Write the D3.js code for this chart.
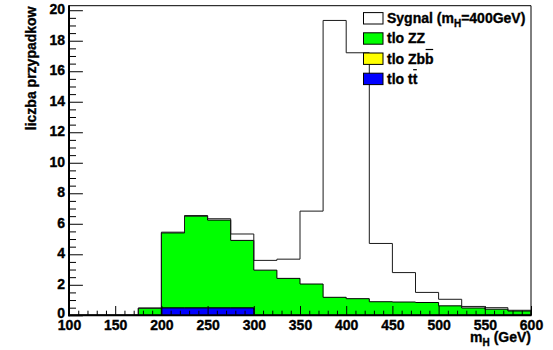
<!DOCTYPE html>
<html>
<head>
<meta charset="utf-8">
<script src="https://cdn.jsdelivr.net/npm/d3@7/dist/d3.min.js"></script>
<style>
  body { margin: 0; background: #fff; }
  svg { display: block; }
</style>
</head>
<body>
<svg id="chart" width="553" height="350"></svg>
<script>
// Histogram bins: lower edges (GeV), 25 GeV wide
const binLow = [100, 125, 150, 175, 200, 225, 250, 275, 300, 325,
                350, 375, 400, 425, 450, 475, 500, 525, 550, 575];
const binWidth = 25;

// Signal (m_H = 400 GeV) outline heights
const sygnal = [0, 0, 0, 0.47, 5.45, 6.54, 6.33, 5.33, 3.60, 3.68,
                6.83, 19.33, 17.21, 4.71, 2.80, 1.50, 1.05, 0.58, 0.50, 0.33];

// Background components (stacked: tt at the bottom, then Zbb, then ZZ)
const tloTT  = [0, 0, 0, 0, 0.48, 0.48, 0.48, 0.48, 0, 0,
                0, 0, 0, 0, 0, 0, 0, 0, 0, 0];
const tloZbb = [0, 0, 0, 0, 0, 0, 0, 0, 0, 0,
                0, 0, 0, 0, 0, 0, 0, 0, 0, 0];
const tloZZ  = [0, 0, 0, 0.47, 4.92, 6.02, 5.76, 4.43, 2.96, 2.42,
                2.05, 1.18, 1.09, 0.89, 0.87, 0.84, 0.62, 0.48, 0.40, 0.28];

// Axis ticks
const xMajor = [100, 150, 200, 250, 300, 350, 400, 450, 500, 550, 600];
const yMajor = [0, 2, 4, 6, 8, 10, 12, 14, 16, 18, 20];

(function draw() {
  const FONT = "Arial, 'Liberation Sans', sans-serif";
  const svg = d3.select("#chart");
  const fLeft = 69, fRight = 531, fTop = 5.7, fBottom = 315.3;

  const yTop = d3.max(sygnal) * 1.05;
  const x = d3.scaleLinear().domain([100, 600]).range([fLeft, fRight]);
  const y = d3.scaleLinear().domain([0, yTop]).range([fBottom, fTop]);

  // Rows for stacking
  const rows = binLow.map((lo, i) => ({ lo, tt: tloTT[i], zbb: tloZbb[i], zz: tloZZ[i] }));
  const layers = d3.stack().keys(["tt", "zbb", "zz"])(rows);
  const colors = { tt: "#0000ff", zbb: "#ffff00", zz: "#00ff00" };

  // Step outline from 0, across bins, back to 0
  function stepPoints(vals) {
    const pts = [[binLow[0], 0]];
    vals.forEach((v, i) => {
      pts.push([binLow[i], v]);
      pts.push([binLow[i] + binWidth, v]);
    });
    pts.push([binLow[binLow.length - 1] + binWidth, 0]);
    return pts;
  }
  const stepLine = d3.line().x(d => x(d[0])).y(d => y(d[1]));
  const stepArea = d3.area().x(d => x(d[0])).y0(y(0)).y1(d => y(d[1]));

  // Cumulative layers drawn from the top of the stack down, each filled from zero
  const plot = svg.append("g");
  layers.slice().reverse().forEach(layer => {
    const tops = layer.map(d => d[1]);
    if (d3.max(tops) <= 0) return;
    const pts = stepPoints(tops);
    plot.append("path").attr("d", stepArea(pts))
      .attr("fill", colors[layer.key]).attr("stroke", "none");
    plot.append("path").attr("d", stepLine(pts))
      .attr("fill", "none").attr("stroke", "#000").attr("stroke-width", 1);
  });

  // Signal outline
  plot.append("path").attr("d", stepLine(stepPoints(sygnal)))
    .attr("fill", "none").attr("stroke", "#1a1a1a").attr("stroke-width", 1);

  // Frame: thin top/right
  svg.append("line").attr("x1", fLeft).attr("x2", fRight).attr("y1", fTop).attr("y2", fTop)
    .attr("stroke", "#000").attr("stroke-width", 1);
  svg.append("line").attr("x1", fRight).attr("x2", fRight).attr("y1", fTop).attr("y2", fBottom)
    .attr("stroke", "#000").attr("stroke-width", 1);

  // X axis: major ticks every 50, minor every 10, pointing inwards
  const xMinor = d3.range(100, 601, 10).filter(v => v % 50 !== 0);
  const gxMinor = svg.append("g").attr("transform", `translate(0,${fBottom})`)
    .call(d3.axisBottom(x).tickValues(xMinor).tickSize(-4.6).tickFormat(""));
  const gx = svg.append("g").attr("transform", `translate(0,${fBottom})`)
    .call(d3.axisBottom(x).tickValues(xMajor).tickSize(-9.3).tickPadding(4.8).tickFormat(d3.format("d")));

  // Y axis: major ticks every 2, minor every 0.5
  const yMinor = d3.range(0, yTop, 0.5).filter(v => v % 2 !== 0);
  const gyMinor = svg.append("g").attr("transform", `translate(${fLeft},0)`)
    .call(d3.axisLeft(y).tickValues(yMinor).tickSize(-7).tickFormat(""));
  const gy = svg.append("g").attr("transform", `translate(${fLeft},0)`)
    .call(d3.axisLeft(y).tickValues(yMajor).tickSize(-13.9).tickPadding(4).tickFormat(d3.format("d")));

  [gxMinor, gx, gyMinor, gy].forEach(g => {
    g.select(".domain").remove();
    g.selectAll(".tick line").attr("stroke", "#000");
  });
  gy.selectAll(".tick text").attr("dy", "0.26em");
  gy.selectAll(".tick text").filter(d => d === 0).attr("dy", "0.14em");

  // Thick left and bottom axis lines
  svg.append("line").attr("x1", fLeft).attr("x2", fLeft).attr("y1", fTop - 0.5).attr("y2", fBottom + 1)
    .attr("stroke", "#000").attr("stroke-width", 2);
  svg.append("line").attr("x1", fLeft - 1).attr("x2", fRight + 0.5).attr("y1", fBottom).attr("y2", fBottom)
    .attr("stroke", "#000").attr("stroke-width", 2);

  // Axis titles
  const xt = svg.append("text").attr("x", fRight).attr("y", 342).attr("text-anchor", "end");
  xt.append("tspan").text("m");
  xt.append("tspan").attr("font-size", 10).attr("dy", 4).text("H");
  xt.append("tspan").attr("dy", -4).text(" (GeV)");

  svg.append("text")
    .attr("transform", "translate(36,6.5) rotate(-90)")
    .attr("text-anchor", "end")
    .text("liczba przypadkow");

  // Legend
  const legend = [
    { fill: "#ffffff", parts: [["Sygnal (m"], ["H", "sub"], ["=400GeV)"]] },
    { fill: colors.zz, parts: [["tlo ZZ"]] },
    { fill: colors.zbb, parts: [["tlo Zb"], ["b", "bar"]] },
    { fill: colors.tt, parts: [["tlo t"], ["t", "bar"]] }
  ];
  const lg = svg.append("g");
  const barQueue = [];
  legend.forEach((e, i) => {
    const cy = 18.3 + i * 20.2;
    lg.append("rect").attr("x", 363.5).attr("y", cy - 5.7).attr("width", 19.5).attr("height", 11.4)
      .attr("fill", e.fill).attr("stroke", "#000").attr("stroke-width", 1);
    const base = cy + 4.8;
    const t = lg.append("text").attr("x", 387).attr("y", base);
    let shifted = false;
    let charCount = 0;
    e.parts.forEach(([s, kind]) => {
      const ts = t.append("tspan").text(s);
      if (kind === "sub") { ts.attr("font-size", 10).attr("dy", 4); shifted = true; }
      else if (shifted) { ts.attr("dy", -4); shifted = false; }
      if (kind === "bar") barQueue.push({ node: t.node(), ci: charCount, base });
      charCount += s.length;
    });
  });

  // Heavy bold 14px text throughout, set directly on each text element
  svg.selectAll("text")
    .attr("font-family", FONT)
    .attr("font-weight", "bold")
    .attr("font-size", 14)
    .attr("fill", "#000")
    .attr("stroke", "#000")
    .attr("stroke-width", 0.35);

  // Overbars for the antiparticle letters, placed once the font is applied
  barQueue.forEach(({ node, ci, base }) => {
    const p0 = node.getStartPositionOfChar(ci).x;
    const p1 = node.getEndPositionOfChar(ci).x;
    lg.append("line").attr("x1", p0 + 0.5).attr("x2", p1 - 0.5)
      .attr("y1", base - 14).attr("y2", base - 14)
      .attr("stroke", "#000").attr("stroke-width", 1.2);
  });
})();
</script>
</body>
</html>
